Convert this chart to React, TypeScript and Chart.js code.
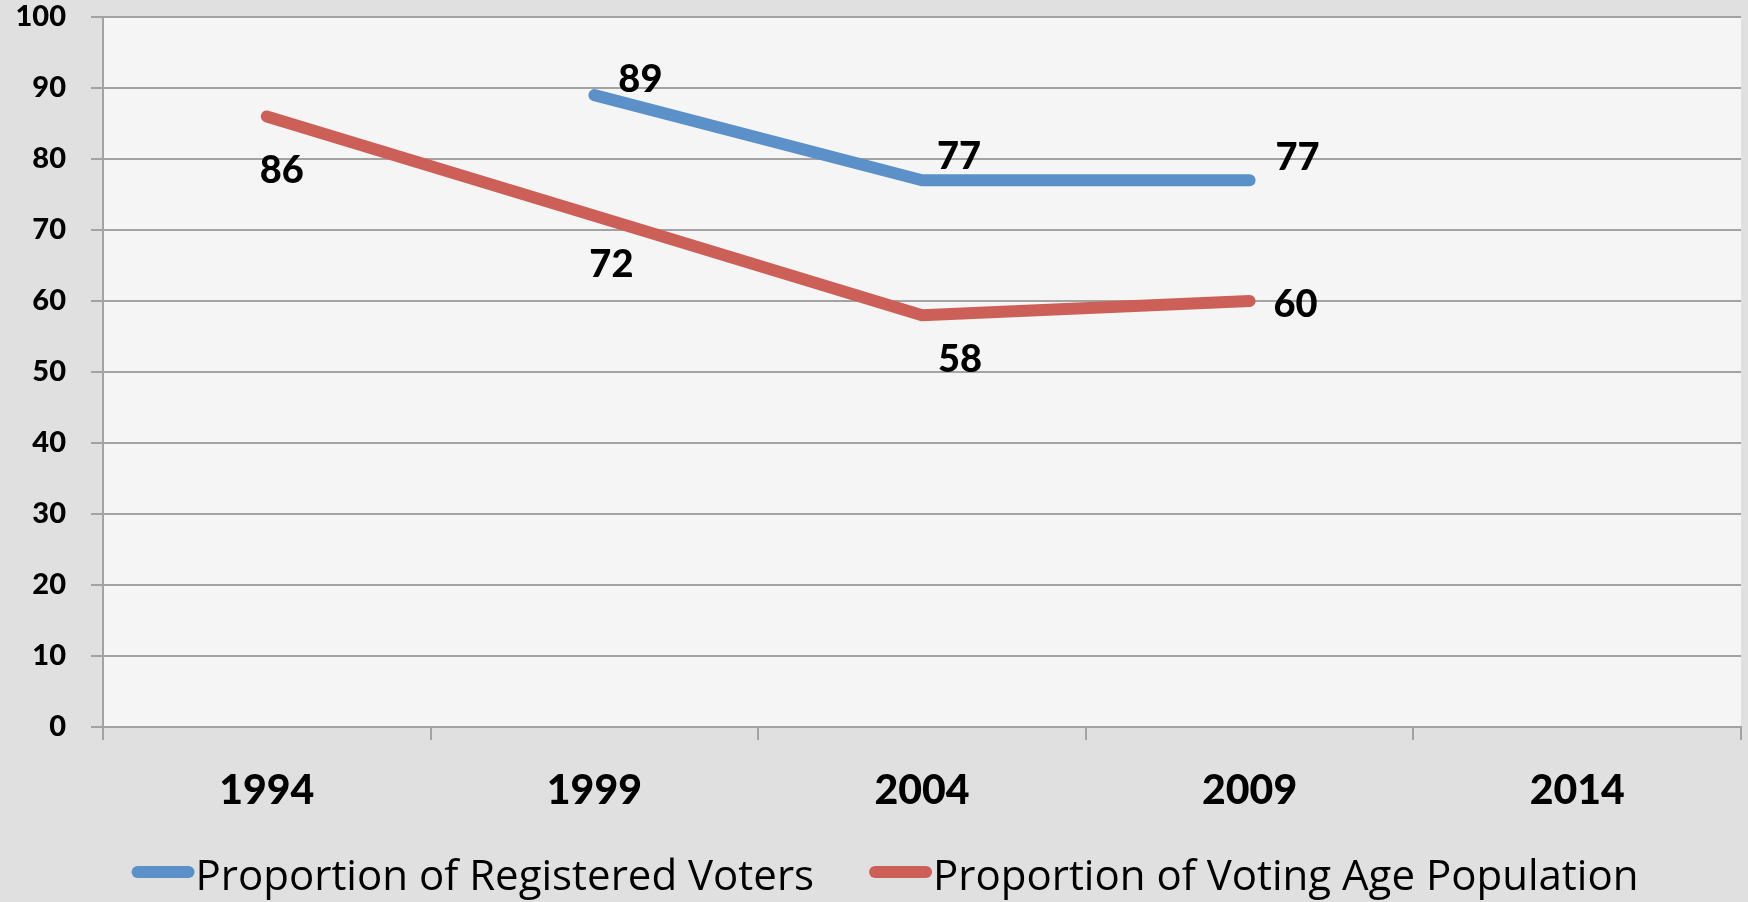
import { useEffect, useRef } from "react";
import { Chart, registerables } from "chart.js";

Chart.register(...registerables);

// Election years on the category axis
const years = ["1994", "1999", "2004", "2009", "2014"];

// Turnout, percent
const registeredVoters: (number | null)[] = [null, 89, 77, 77, null];
const votingAgePopulation: (number | null)[] = [86, 72, 58, 60, null];

const seriesNames = ["Proportion of Registered Voters", "Proportion of Voting Age Population"];
const seriesColors = ["#5b90c8", "#cc6058"];

// Value axis range
const yMin = 0;
const yMax = 100;
const yStep = 10;

// Where each value label sits relative to its point (dx, dy in px)
const registeredLabelOffsets: ([number, number] | null)[] = [null, [46, -17], [37, -25], [48, -24], null];
const votingAgeLabelOffsets: ([number, number] | null)[] = [[15, 53], [17, 48], [38, 43], [46, 2], null];

const FONT = "Lato, 'Open Sans', sans-serif";
const HEAVY = 900;
const LEGEND_FONT = "'Open Sans', Lato, sans-serif";
const OUTER_BG = "#e0e0e0";
const PLOT_BG = "#f5f5f5";
const GRID = "#a3a3a3";

const backgroundPlugin = {
  id: "panelBackground",
  beforeDraw(chart: Chart) {
    const { ctx, chartArea } = chart;
    ctx.save();
    ctx.fillStyle = OUTER_BG;
    ctx.fillRect(0, 0, chart.width, chart.height);
    ctx.fillStyle = PLOT_BG;
    ctx.fillRect(chartArea.left, chartArea.top, chartArea.right - chartArea.left, chartArea.bottom - chartArea.top);
    ctx.restore();
  },
};

const valueLabelPlugin = {
  id: "valueLabels",
  afterDatasetsDraw(chart: Chart) {
    const { ctx } = chart;
    const offsets = [registeredLabelOffsets, votingAgeLabelOffsets];
    const size = 38;
    ctx.save();
    ctx.font = `${HEAVY} ${size}px ${FONT}`;
    ctx.fillStyle = "#000";
    ctx.textAlign = "center";
    ctx.textBaseline = "alphabetic";
    chart.data.datasets.forEach((ds, di) => {
      const meta = chart.getDatasetMeta(di);
      (ds.data as (number | null)[]).forEach((v, i) => {
        const off = offsets[di][i];
        if (v === null || !off) return;
        const pt = meta.data[i];
        ctx.fillText(String(v), pt.x + off[0], pt.y + off[1] + size * 0.36);
      });
    });
    ctx.restore();
  },
};

const legendPlugin = {
  id: "lineLegend",
  afterDraw(chart: Chart) {
    const { ctx } = chart;
    const size = 42;
    const sampleW = 63;
    const gapText = 1;
    const gapItems = 55;
    const cy = 872;
    ctx.save();
    ctx.font = `${size}px ${LEGEND_FONT}`;
    const items = chart.data.datasets.map((ds) => ({
      text: String(ds.label),
      color: String(ds.borderColor),
      w: ctx.measureText(String(ds.label)).width,
    }));
    const total = items.reduce((s, it) => s + sampleW + gapText + it.w, 0) + gapItems * (items.length - 1);
    let x = chart.width / 2 - total / 2 + 11;
    items.forEach((it) => {
      ctx.strokeStyle = it.color;
      ctx.lineWidth = 12;
      ctx.lineCap = "round";
      ctx.beginPath();
      ctx.moveTo(x + 6, cy);
      ctx.lineTo(x + sampleW - 6, cy);
      ctx.stroke();
      ctx.fillStyle = "#000";
      ctx.textAlign = "left";
      ctx.textBaseline = "alphabetic";
      ctx.fillText(it.text, x + sampleW + gapText, 890);
      x += sampleW + gapText + it.w + gapItems;
    });
    ctx.restore();
  },
};

export default function App() {
  const canvasRef = useRef<HTMLCanvasElement | null>(null);

  useEffect(() => {
    let chart: Chart | null = null;
    let cancelled = false;
    const build = () => {
      if (cancelled || !canvasRef.current) return;
      chart = new Chart(canvasRef.current, {
        type: "line",
        data: {
          labels: years,
          datasets: [
            {
              label: seriesNames[0],
              data: registeredVoters,
              borderColor: seriesColors[0],
              backgroundColor: seriesColors[0],
              borderWidth: 12,
              borderCapStyle: "round",
              borderJoinStyle: "round",
              pointRadius: 0,
              pointHoverRadius: 0,
              tension: 0,
              spanGaps: false,
            },
            {
              label: seriesNames[1],
              data: votingAgePopulation,
              borderColor: seriesColors[1],
              backgroundColor: seriesColors[1],
              borderWidth: 12,
              borderCapStyle: "round",
              borderJoinStyle: "round",
              pointRadius: 0,
              pointHoverRadius: 0,
              tension: 0,
              spanGaps: false,
            },
          ],
        },
        options: {
          responsive: false,
          animation: false,
          events: [],
          layout: { padding: { left: 0, right: 7, top: 17, bottom: 75 } },
          plugins: {
            legend: { display: false },
            tooltip: { enabled: false },
            title: { display: false },
          },
          scales: {
            x: {
              offset: true,
              afterFit: (scale: any) => {
                scale.height = 100;
              },
              grid: {
                offset: true,
                drawOnChartArea: false,
                drawTicks: true,
                tickLength: 13,
                color: GRID,
                lineWidth: 2,
              },
              border: { display: true, color: GRID, width: 2 },
              ticks: {
                color: "#000",
                padding: 26,
                font: { family: FONT, size: 41, weight: HEAVY },
                maxRotation: 0,
                autoSkip: false,
              },
            },
            y: {
              min: yMin,
              max: yMax,
              afterFit: (scale: any) => {
                scale.width = 103;
                scale.paddingTop = 0;
                scale.paddingBottom = 0;
              },
              grid: {
                color: GRID,
                lineWidth: 2,
                tickLength: 12,
              },
              border: { display: true, color: GRID, width: 2 },
              ticks: {
                stepSize: yStep,
                color: "#000",
                padding: 25,
                font: { family: FONT, size: 29, weight: HEAVY },
              },
            },
          },
        },
        plugins: [backgroundPlugin, valueLabelPlugin, legendPlugin],
      });
    };
    const fontsApi = (document as any).fonts;
    if (fontsApi && fontsApi.load) {
      Promise.all([
        fontsApi.load(`${HEAVY} 39px Lato`),
        fontsApi.load(`42px 'Open Sans'`),
      ]).then(build, build);
    } else {
      build();
    }
    return () => {
      cancelled = true;
      if (chart) chart.destroy();
    };
  }, []);

  return (
    <div style={{ position: "absolute", left: 0, top: 0, width: 1748, height: 902 }}>
      <canvas ref={canvasRef} width={1748} height={902} style={{ display: "block" }} />
    </div>
  );
}
